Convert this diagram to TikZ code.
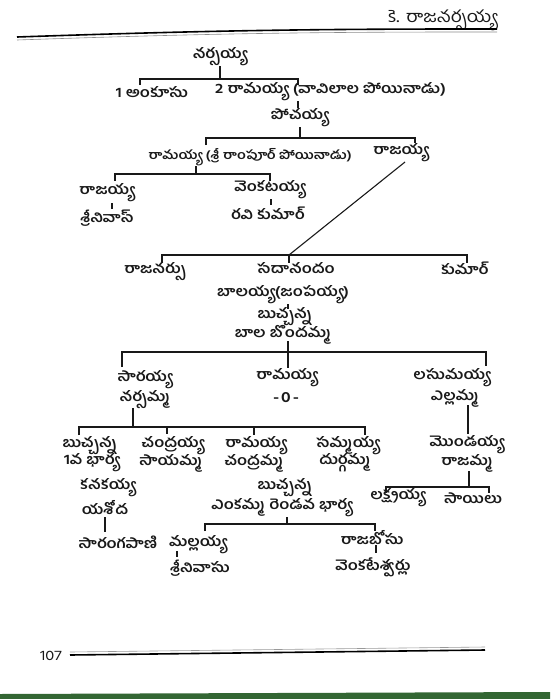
\documentclass[tikz,border=0pt]{standalone}
\usepackage{fontspec}
\newfontfamily\tel[Script=Telugu, FakeStretch=1.17]{Hind Guntur}
\begin{document}
\begin{tikzpicture}[x=1pt,y=-1pt,
  t/.style={font=\tel\bfseries\fontsize{14}{16}\selectfont, inner sep=0pt, text=black!90},
  ln/.style={line width=1.1pt, black!90}]
\useasboundingbox (0,0) rectangle (550,699);
% header
\node[t, font=\tel\fontsize{16.5}{18}\selectfont, anchor=east] (hdr) at (497,20) {కె. రాజనర్సయ్య};
\coordinate (hl1) at (17,37); \coordinate (hl2) at (497,29);
\coordinate (hg1) at (17,40); \coordinate (hg2) at (497,32);
\draw[line width=1.6pt] (hl1) to[bend left=1] (hl2);
\draw[line width=0.6pt, black!45] (hg1) to[bend left=1] (hg2);
% generation 1
\node[t] (n1) at (220,57) {నర్సయ్య};
\node[t] (a1) at (152,92) {1 అంకూసు};
\node[t, anchor=west] (a2) at (215,92) {2 రామయ్య (వావిలాల పోయినాడు)};
\node[t] (p) at (300,118) {పోచయ్య};
\node[t, font=\tel\bfseries\fontsize{12.3}{14}\selectfont] (r1) at (250,157) {రామయ్య (శ్రీ రాంపూర్ పోయినాడు)};
\node[t] (r2) at (401,153) {రాజయ్య};
\node[t] (r11) at (107,193) {రాజయ్య};
\node[t] (r11a) at (107,218) {శ్రీనివాస్};
\node[t] (r12) at (270,190) {వెంకటయ్య};
\node[t] (r12a) at (268,213) {రవి కుమార్};
\node[t] (s1) at (155,272) {రాజనర్సు};
\node[t] (s2) at (296,268) {సదానందం};
\node[t] (s3) at (465,268) {కుమార్};
\node[t] (b1) at (283,295) {బాలయ్య(జంపయ్య)};
\node[t] (b2) at (285,317) {బుచ్చన్న};
\node[t] (b3) at (283,335) {బాల బొందమ్మ};
\node[t] (c1) at (145,380) {సారయ్య};
\node[t] (c1b) at (145,400) {నర్సమ్మ};
\node[t] (c2) at (287,378) {రామయ్య};
\node[t, font=\tel\bfseries\fontsize{15}{16}\selectfont] (c2b) at (286,398) {-\hspace{2pt}0\hspace{2pt}-};
\node[t] (c3) at (452,378) {లసుమయ్య};
\node[t] (c3b) at (455,398) {ఎల్లమ్మ};
\node[t] (d1) at (90,446) {బుచ్చన్న};
\node[t] (d1b) at (92,463) {1వ భార్య};
\node[t] (d2) at (173,446) {చంద్రయ్య};
\node[t] (d2b) at (171,463) {సాయమ్మ};
\node[t] (d3) at (256,446) {రామయ్య};
\node[t] (d3b) at (254,463) {చంద్రమ్మ};
\node[t] (d4) at (348,446) {సమ్మయ్య};
\node[t] (d4b) at (345,463) {దుర్గమ్మ};
\node[t] (e1) at (467,445) {మొండయ్య};
\node[t] (e1b) at (467,463) {రాజమ్మ};
\node[t] (k1) at (108,488) {కనకయ్య};
\node[t] (k1b) at (105,508) {యశోద};
\node[t] (f1) at (285,488) {బుచ్చన్న};
\node[t] (f1b) at (282,508) {ఎంకమ్మ రెండవ భార్య};
\node[t] (g1) at (398,498) {లక్ష్మయ్య};
\node[t] (g2) at (473,498) {సాయిలు};
\node[t] (h1) at (118,542) {సారంగపాణి};
\node[t] (m1) at (198,545) {మల్లయ్య};
\node[t] (m1b) at (200,568) {శ్రీనివాసు};
\node[t] (m2) at (372,538) {రాజబోసు};
\node[t] (m2b) at (373,567) {వెంకటేశ్వర్లు};
\node[t, font=\tel\fontsize{14}{15}\selectfont] (pg) at (51,656) {107};
% connectors
\draw[ln] (220,66) -- (220,79);
\draw[ln] (140,85) -- (140,79) -- (298,79) -- (298,85);
\draw[ln] (298,101) -- (298,108);
\draw[ln] (300,127) -- (300,138);
\draw[ln] (206,145) -- (206,138) -- (415,138) -- (415,143);
\draw[ln] (196,166) -- (196,174);
\draw[ln] (115,181) -- (115,174) -- (270,174) -- (270,181);
\draw[ln] (112,203) -- (112,209);
\draw[ln] (271,199) -- (271,205);
\draw[ln] (405,162) -- (289,255);
\draw[ln] (162,263) -- (162,255) -- (467,255) -- (467,263);
\draw[ln] (289,255) -- (289,263);
\draw[ln] (288,304) -- (288,309);
\draw[ln] (288,341) -- (288,352);
\draw[ln] (122,367) -- (122,352) -- (486,352) -- (486,366);
\draw[ln] (288,352) -- (288,368);
\draw[ln] (133,408) -- (133,427);
\draw[ln] (79,435) -- (79,427) -- (365,427) -- (365,435);
\draw[ln] (167,427) -- (167,434);
\draw[ln] (254,427) -- (254,435);
\draw[ln] (468,405) -- (468,434);
\draw[ln] (469,471) -- (469,487);
\draw[ln] (386,493) -- (386,487) -- (489,487) -- (489,493);
\draw[ln] (105,517) -- (105,532);
\draw[ln] (287,517) -- (287,524);
\draw[ln] (205,531) -- (205,524) -- (375,524) -- (375,531);
\draw[ln] (177,551) -- (177,557);
\draw[ln] (376,545) -- (376,553);
% footer
\draw[line width=0.6pt, black!40] (70,652) -- (485,647);
\draw[line width=1.6pt] (70,655) -- (485,650);
\fill[green!25!black!80] (0,694) -- (550,692) -- (550,699) -- (0,699) -- cycle;
\end{tikzpicture}
\end{document}
